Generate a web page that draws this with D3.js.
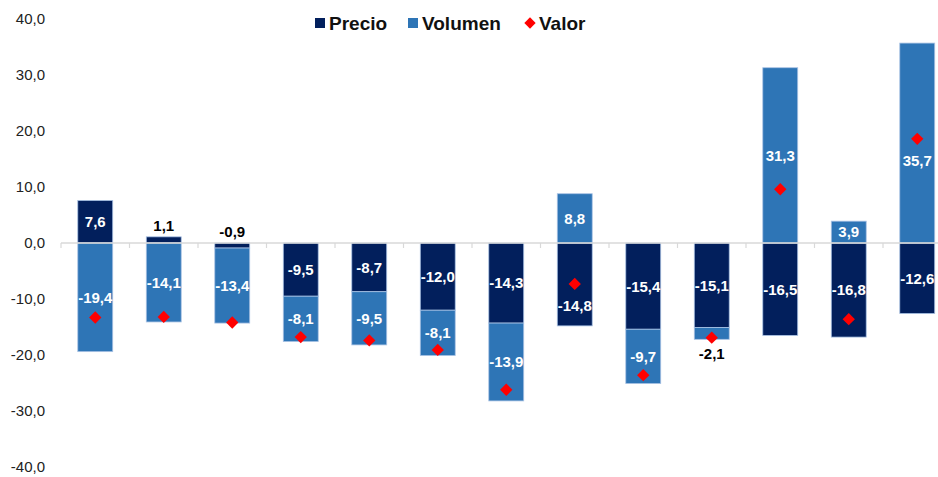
<!DOCTYPE html>
<html lang="es">
<head>
<meta charset="utf-8">
<script src="https://d3js.org/d3.v7.min.js"></script>
<style>
  body { margin:0; background:#fff; }
  svg { font-family: "Liberation Sans", Arial, sans-serif; }
</style>
</head>
<body>
<script>
// one entry per category (no labels shown on the x axis)
const categories = ["1","2","3","4","5","6","7","8","9","10","11","12","13"];
const precio  = [7.6, 1.1, -0.9, -9.5, -8.7, -12.0, -14.3, -14.8, -15.4, -15.1, -16.5, -16.8, -12.6];
const volumen = [-19.4, -14.1, -13.4, -8.1, -9.5, -8.1, -13.9, 8.8, -9.7, -2.1, 31.3, 3.9, 35.7];
const valor   = [-13.3, -13.2, -14.2, -16.8, -17.4, -19.1, -26.2, -7.3, -23.6, -16.9, 9.6, -13.6, 18.6];
const yTicks  = [-40, -30, -20, -10, 0, 10, 20, 30, 40];

const W = 938, H = 477;
const colors = { precio: "#021f5c", volumen: "#2e75b6", valor: "#ff0000" };
const fmt = v => d3.format(".1f")(v).replace(".", ",").replace("−", "-");

const svg = d3.select("body").append("svg").attr("width", W).attr("height", H);

const x = d3.scaleBand().domain(categories).range([61, 61 + 13 * 68.5]).paddingInner(0.49).paddingOuter(0.245);
const y = d3.scaleLinear().domain([-40, 40]).range([467, 19]);

// y axis labels only
const yAxis = svg.append("g")
  .attr("transform", "translate(45,0)")
  .call(d3.axisLeft(y).tickValues(yTicks).tickFormat(fmt).tickSize(0).tickPadding(0));
yAxis.select(".domain").remove();
yAxis.selectAll("text").attr("font-size", 15).attr("fill", "#222");

// stack, diverging
const rows = categories.map((c, i) => ({ cat: c, precio: precio[i], volumen: volumen[i] }));
const series = d3.stack().keys(["precio", "volumen"]).offset(d3.stackOffsetDiverging)(rows);

svg.append("g").selectAll("g")
  .data(series).join("g")
  .attr("fill", s => colors[s.key])
  .selectAll("rect")
  .data(s => s)
  .join("rect")
  .attr("x", d => x(d.data.cat))
  .attr("width", x.bandwidth())
  .attr("y", d => y(Math.max(d[0], d[1])))
  .attr("height", d => Math.abs(y(d[0]) - y(d[1])))
  .attr("stroke", "#a9c2e4")
  .attr("stroke-width", 0.8);

// zero line with little ticks between categories
const zero = svg.append("g");
zero.append("line")
  .attr("x1", 61).attr("x2", W)
  .attr("y1", y(0)).attr("y2", y(0))
  .attr("stroke", "#d9d9d9").attr("stroke-width", 1.5);
zero.selectAll("line.tk")
  .data(d3.range(0, 14)).join("line").attr("class", "tk")
  .attr("x1", i => 61 + i * 68.5).attr("x2", i => 61 + i * 68.5)
  .attr("y1", y(0)).attr("y2", y(0) + 5)
  .attr("stroke", "#d9d9d9").attr("stroke-width", 1.2);

// labels on segments (moved off the diamond when they would overlap it)
const labels = [];
series.forEach(s => s.forEach((d, i) => {
  const v = d.data[s.key];
  const cx = x(d.data.cat) + x.bandwidth() / 2;
  let ly, col = "#fff";
  if (Math.abs(v) < 3) {
    col = "#000";
    if (s.key === "precio") ly = y(Math.max(0, v)) - 11;
    else ly = y(Math.min(d[0], d[1])) + 14;
  } else {
    ly = y((d[0] + d[1]) / 2);
    const dy = y(valor[i]);
    if (Math.abs(ly - dy) < 12) ly = dy + 22;
  }
  labels.push({ cx, ly, col, t: fmt(v) });
}));
svg.append("g").selectAll("text")
  .data(labels).join("text")
  .attr("x", d => d.cx).attr("y", d => d.ly)
  .attr("dy", "0.36em")
  .attr("text-anchor", "middle")
  .attr("font-size", 15).attr("font-weight", "bold")
  .attr("fill", d => d.col)
  .text(d => d.t);

// valor diamonds
const diamond = d3.symbol().type(d3.symbolSquare).size(76);
svg.append("g").selectAll("path")
  .data(valor).join("path")
  .attr("d", diamond)
  .attr("fill", colors.valor)
  .attr("transform", (v, i) => `translate(${x(categories[i]) + x.bandwidth() / 2},${y(v)}) rotate(45)`);

// legend
const legend = svg.append("g").attr("transform", "translate(0,23)");
const items = [
  { name: "Precio", x: 320, kind: "sq", c: colors.precio },
  { name: "Volumen", x: 413, kind: "sq", c: colors.volumen },
  { name: "Valor", x: 530, kind: "di", c: colors.valor }
];
items.forEach(it => {
  if (it.kind === "sq") {
    legend.append("rect").attr("x", it.x - 5).attr("y", -5).attr("width", 10).attr("height", 10).attr("fill", it.c);
  } else {
    legend.append("path").attr("d", d3.symbol().type(d3.symbolSquare).size(64)())
      .attr("transform", `translate(${it.x},0) rotate(45)`).attr("fill", it.c);
  }
  legend.append("text").attr("x", it.x + 9).attr("y", 0).attr("dy", "0.36em")
    .attr("font-size", 19).attr("font-weight", "bold").attr("fill", "#111").text(it.name);
});
</script>
</body>
</html>
